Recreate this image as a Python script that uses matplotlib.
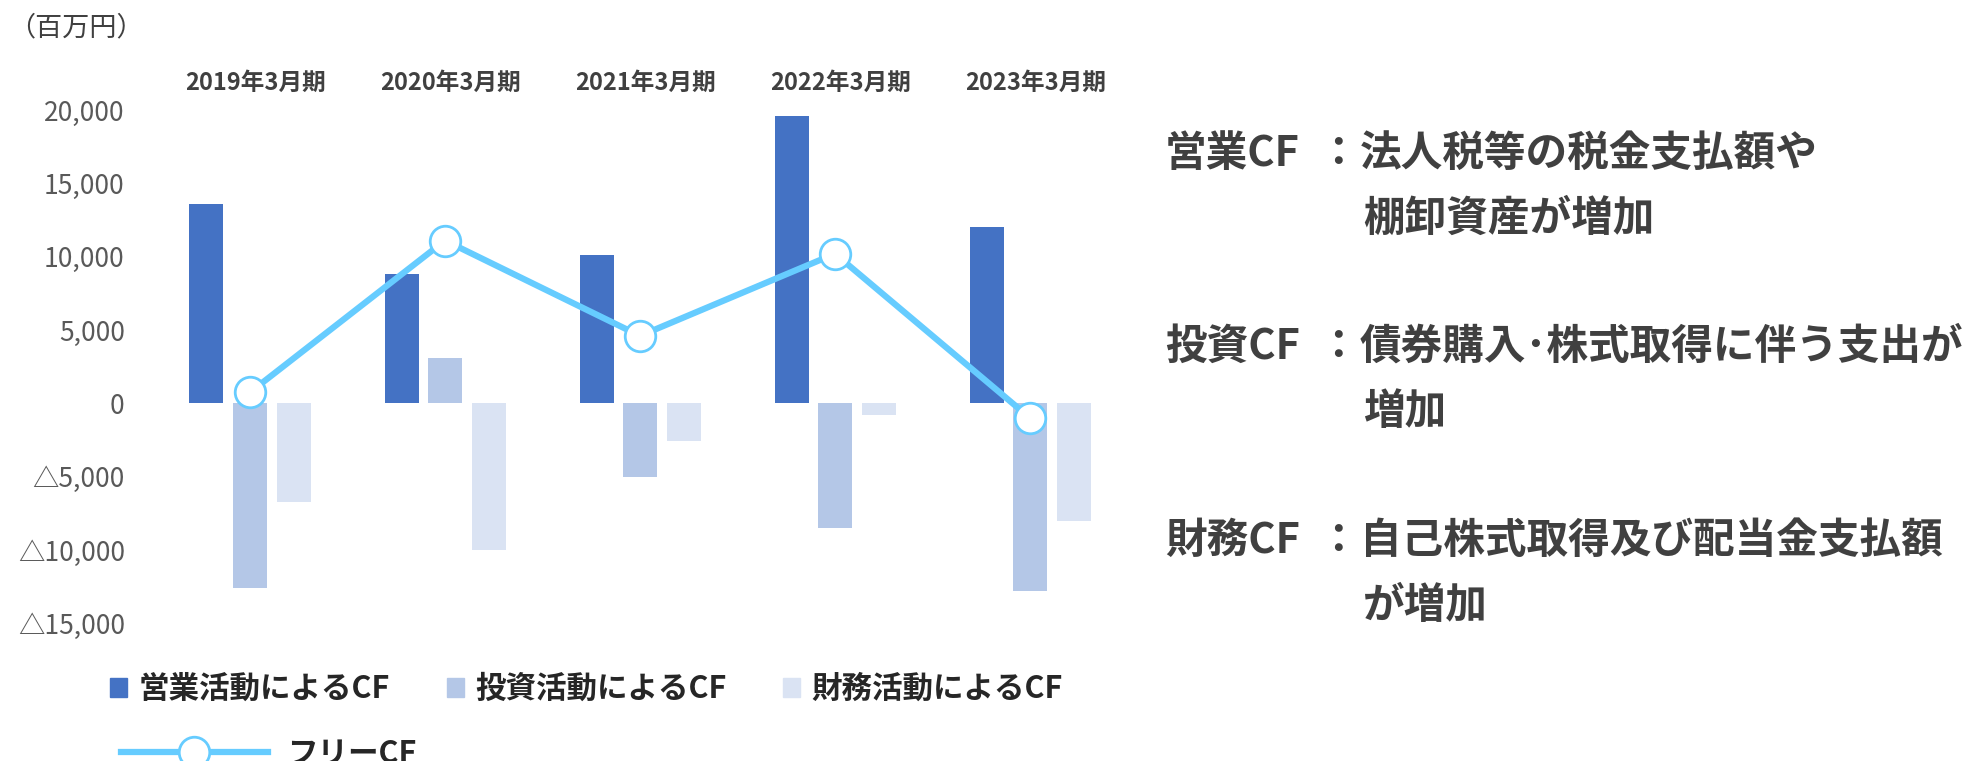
import matplotlib
matplotlib.use('Agg')
import numpy as np
import matplotlib.pyplot as plt
from matplotlib.patches import Patch
from matplotlib.lines import Line2D
from matplotlib.transforms import blended_transform_factory

plt.rcParams['font.family'] = ['Noto Sans CJK JP', 'DejaVu Sans']

# データ（百万円）
years = ['2019年3月期', '2020年3月期', '2021年3月期', '2022年3月期', '2023年3月期']
operating_cf = [13600, 8800, 10100, 19600, 12000]
investing_cf = [-12600, 3100, -5000, -8500, -12800]
financing_cf = [-6700, -10000, -2600, -800, -8000]
free_cf = [750, 11100, 4600, 10200, -1000]

yticks = [-15000, -10000, -5000, 0, 5000, 10000, 15000, 20000]
ytick_labels = ['△15,000', '△10,000', '△5,000', '0', '5,000', '10,000', '15,000', '20,000']
series_names = ['営業活動によるCF', '投資活動によるCF', '財務活動によるCF']
line_name = 'フリーCF'

note_heads = ['営業CF', '投資CF', '財務CF']
note_first = ['法人税等の税金支払額や', '債券購入･株式取得に伴う支出が', '自己株式取得及び配当金支払額']
note_second = ['棚卸資産が増加', '増加', 'が増加']

colors = ['#4472C4', '#B4C7E7', '#DAE3F3']
line_color = '#66CCFF'

W, H = 1974, 761
fig = plt.figure(figsize=(W / 100, H / 100), dpi=100)
ax = fig.add_axes([152.5 / W, 1 - 623.3 / H, 975 / W, (623.3 - 110) / H])

x = np.arange(len(years))
bw = 34 / 195
step = 43.5 / 195
ax.bar(x - step, operating_cf, bw, color=colors[0], zorder=2)
ax.bar(x, investing_cf, bw, color=colors[1], zorder=2)
ax.bar(x + step, financing_cf, bw, color=colors[2], zorder=2)
ax.plot(x, free_cf, color=line_color, lw=4.5, marker='o', ms=22,
        mfc='white', mec=line_color, mew=2, zorder=5)

ax.set_xlim(-0.5, 4.5)
ax.set_ylim(-15000, 20000)
ax.set_yticks(yticks, ytick_labels)
ax.set_xticks([])
ax.tick_params(axis='y', length=0, pad=20, labelsize=19, labelcolor='#595959')
for s in ax.spines.values():
    s.set_visible(False)

# 年度ラベル（上部）
trans = blended_transform_factory(ax.transData, fig.transFigure)
for i, y in enumerate(years):
    ax.text(i + 0.03, 1 - 83 / H, y, transform=trans, ha='center', va='center',
            fontsize=17, fontweight='bold', color='#404040')

fig.text(8 / W, 1 - 28 / H, '（百万円）', ha='left', va='center', fontsize=19.5, color='#404040')

# 凡例
def add_entry(handle, label, x_px, y_px, hl, hh, pad):
    fig.legend(handles=[handle], labels=[label], loc='center left',
               bbox_to_anchor=(x_px / W, 1 - y_px / H), bbox_transform=fig.transFigure,
               frameon=False, borderpad=0, borderaxespad=0, handlelength=hl,
               handleheight=hh, handletextpad=pad, numpoints=1,
               prop={'size': 22, 'weight': 'bold'}, labelcolor='#262626')

for name, c, xp in zip(series_names, colors, [110, 447, 783]):
    add_entry(Patch(color=c), name, xp, 689, 0.56, 0.56, 0.36)

add_entry(Line2D([], [], color=line_color, lw=4.5, marker='o', ms=22, mfc='white',
                 mec=line_color, mew=2), line_name, 121, 754, 4.8, 0.7, 0.65)

# 右側の説明文
txt = dict(va='center', fontweight='bold', color='#404040', fontsize=30)
for head, l1, l2, yp in zip(note_heads, note_first, note_second, [154, 347, 541]):
    fig.text(1165 / W, 1 - yp / H, head, ha='left', **txt)
    fig.text(1338 / W, 1 - yp / H, '：', ha='center', **txt)
    fig.text(1360 / W, 1 - yp / H, l1, ha='left', **txt)
    fig.text(1363 / W, 1 - (yp + 65) / H, l2, ha='left', **txt)

fig.savefig('out.png', dpi=100)
